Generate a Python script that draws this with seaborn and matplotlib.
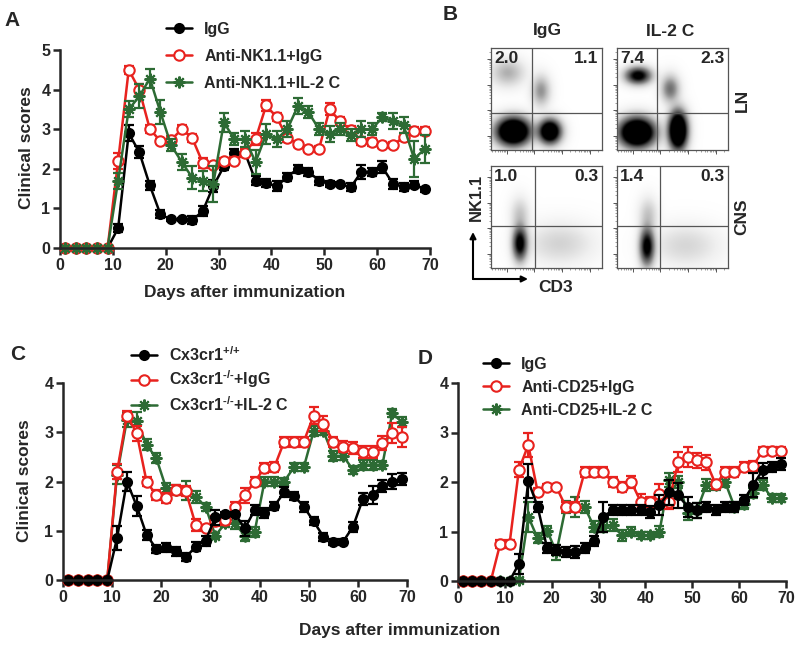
import numpy as np
import matplotlib
matplotlib.use('Agg')
import matplotlib.pyplot as plt
from matplotlib.patches import FancyArrowPatch
import seaborn as sns

sns.set_style('ticks')
plt.rcParams['font.family'] = ['Liberation Sans', 'DejaVu Sans']
plt.rcParams['font.weight'] = 'bold'
plt.rcParams['axes.labelweight'] = 'bold'
plt.rcParams['mathtext.fontset'] = 'custom'
plt.rcParams['mathtext.rm'] = 'Liberation Sans:bold'
plt.rcParams['mathtext.bf'] = 'Liberation Sans:bold'
plt.rcParams['mathtext.default'] = 'bf'

BLACK = '#000000'
RED = '#e8221e'
GREEN = '#2d6b34'

# 天数（每隔一天记录一次）
days = list(range(1, 70, 2))

# A: NK1.1 清除
a_igg = [0, 0, 0, 0, 0, 0.5, 2.9, 2.42, 1.58, 0.85, 0.72, 0.72, 0.7, 0.93, 1.56,
         2.06, 2.4, 2.4, 1.7, 1.64, 1.56, 1.8, 2.0, 1.93, 1.7, 1.62, 1.62, 1.53, 1.92, 1.92,
         2.04, 1.62, 1.55, 1.6, 1.48]
a_igg_err = [0, 0, 0, 0, 0, 0.1, 0.2, 0.15, 0.12, 0.1, 0.05, 0.05, 0.1, 0.12, 0.15,
             0.1, 0.1, 0.1, 0.12, 0.1, 0.12, 0.1, 0.1, 0.1, 0.1, 0.08, 0.05, 0.1, 0.18, 0.1,
             0.15, 0.12, 0.1, 0.08, 0.07]
a_nk = [0, 0, 0, 0, 0, 2.2, 4.5, 4.0, 3.0, 2.7, 2.72, 3.0, 2.78, 2.15, 2.1,
        2.2, 2.2, 2.4, 2.75, 3.6, 3.3, 2.78, 2.62, 2.5, 2.5, 3.5, 3.2, 2.98, 2.7, 2.67,
        2.6, 2.6, 2.8, 2.95, 2.95]
a_nk_err = [0, 0, 0, 0, 0, 0.2, 0.1, 0.15, 0.1, 0.05, 0.1, 0.1, 0.1, 0.12, 0.08,
            0.08, 0.1, 0.1, 0.15, 0.15, 0.1, 0.1, 0.08, 0.08, 0.08, 0.15, 0.1, 0.1, 0.1, 0.1,
            0.08, 0.08, 0.1, 0.1, 0.1]
a_nk_il2 = [0, 0, 0, 0, 0, 1.7, 3.5, 3.83, 4.28, 3.43, 2.6, 2.18, 1.78, 1.7, 1.62,
            3.17, 2.75, 2.75, 2.17, 2.87, 2.75, 3.0, 3.58, 3.43, 3.0, 2.87, 3.0, 2.85, 3.0, 3.0,
            3.3, 3.2, 3.1, 2.25, 2.5]
a_nk_il2_err = [0, 0, 0, 0, 0, 0.2, 0.2, 0.3, 0.25, 0.3, 0.15, 0.2, 0.3, 0.25, 0.45,
                0.25, 0.15, 0.2, 0.3, 0.25, 0.2, 0.2, 0.2, 0.15, 0.15, 0.2, 0.15, 0.15, 0.2, 0.15,
                0.1, 0.2, 0.2, 0.45, 0.35]

# C: Cx3cr1
c_wt = [0, 0, 0, 0, 0, 0.85, 2.0, 1.5, 0.92, 0.63, 0.66, 0.58, 0.46, 0.68, 0.8,
        1.27, 1.34, 1.34, 1.05, 1.42, 1.36, 1.5, 1.78, 1.71, 1.49, 1.19, 0.88, 0.78, 0.78, 1.08,
        1.64, 1.73, 1.91, 2.0, 2.05]
c_wt_err = [0, 0, 0, 0, 0, 0.25, 0.2, 0.2, 0.1, 0.08, 0.1, 0.1, 0.08, 0.1, 0.1,
            0.15, 0.05, 0.05, 0.15, 0.1, 0.1, 0.08, 0.1, 0.08, 0.1, 0.08, 0.08, 0.06, 0.06, 0.1,
            0.12, 0.18, 0.12, 0.15, 0.12]
c_ko = [0, 0, 0, 0, 0, 2.2, 3.34, 2.98, 2.0, 1.72, 1.66, 1.82, 1.8, 1.12, 1.06,
        1.19, 1.22, 1.49, 1.72, 2.0, 2.27, 2.29, 2.81, 2.81, 2.81, 3.34, 3.17, 2.81, 2.71, 2.68,
        2.6, 2.6, 2.78, 2.98, 2.9]
c_ko_err = [0, 0, 0, 0, 0, 0.15, 0.1, 0.15, 0.1, 0.1, 0.1, 0.1, 0.1, 0.12, 0.06,
            0.1, 0.1, 0.1, 0.15, 0.1, 0.1, 0.1, 0.1, 0.1, 0.1, 0.18, 0.15, 0.1, 0.12, 0.12,
            0.12, 0.12, 0.15, 0.2, 0.2]
c_ko_il2 = [0, 0, 0, 0, 0, 2.14, 3.25, 3.22, 2.75, 2.47, 1.86, 1.83, 1.82, 1.69, 1.49,
            0.9, 1.15, 1.15, 0.9, 0.98, 2.0, 2.0, 2.0, 2.29, 2.29, 3.02, 3.02, 2.52, 2.52, 2.24,
            2.34, 2.34, 2.34, 3.39, 3.2]
c_ko_il2_err = [0, 0, 0, 0, 0, 0.2, 0.15, 0.2, 0.12, 0.1, 0.1, 0.1, 0.2, 0.12, 0.08,
                0.06, 0.08, 0.12, 0.1, 0.1, 0.1, 0.1, 0.08, 0.08, 0.08, 0.1, 0.08, 0.1, 0.08, 0.08,
                0.1, 0.1, 0.08, 0.08, 0.1]

# D: CD25 清除
d_igg = [0, 0, 0, 0, 0, 0, 0.35, 2.02, 1.5, 0.67, 0.62, 0.59, 0.59, 0.67, 0.8,
         1.3, 1.43, 1.43, 1.43, 1.43, 1.4, 1.53, 1.79, 1.73, 1.5, 1.43, 1.5, 1.43, 1.5, 1.5,
         1.63, 1.94, 2.24, 2.3, 2.37]
d_igg_err = [0, 0, 0, 0, 0, 0, 0.2, 0.35, 0.1, 0.1, 0.1, 0.1, 0.12, 0.1, 0.1,
             0.3, 0.1, 0.1, 0.1, 0.1, 0.12, 0.2, 0.25, 0.25, 0.2, 0.15, 0.1, 0.1, 0.1, 0.1,
             0.1, 0.25, 0.15, 0.1, 0.12]
d_cd25 = [0, 0, 0, 0, 0.75, 0.75, 2.25, 2.75, 1.8, 1.9, 1.9, 1.5, 1.5, 2.2, 2.2,
          2.2, 2.0, 1.9, 2.0, 1.6, 1.6, 1.75, 1.6, 2.4, 2.5, 2.44, 2.4, 1.95, 2.2, 2.2,
          2.3, 2.33, 2.62, 2.62, 2.62]
d_cd25_err = [0, 0, 0, 0, 0.08, 0.08, 0.15, 0.25, 0.08, 0.06, 0.06, 0.1, 0.1, 0.1, 0.1,
              0.1, 0.1, 0.1, 0.12, 0.15, 0.1, 0.2, 0.15, 0.2, 0.2, 0.15, 0.15, 0.1, 0.1, 0.1,
              0.1, 0.1, 0.08, 0.08, 0.08]
d_cd25_il2 = [0, 0, 0, 0, 0, 0, 0.02, 1.3, 0.86, 1.02, 0.58, 1.5, 1.5, 1.5, 1.1,
              1.1, 1.13, 0.92, 1.0, 0.92, 0.92, 1.0, 2.04, 2.0, 1.38, 1.43, 1.94, 1.94, 2.0, 1.5,
              1.56, 1.77, 1.94, 1.67, 1.68]
d_cd25_il2_err = [0, 0, 0, 0, 0, 0, 0.05, 0.3, 0.1, 0.1, 0.15, 0.12, 0.2, 0.12, 0.12,
                  0.1, 0.12, 0.12, 0.1, 0.08, 0.08, 0.12, 0.15, 0.12, 0.15, 0.15, 0.12, 0.1, 0.1, 0.1,
                  0.1, 0.1, 0.1, 0.08, 0.08]

# B: 流式细胞群 (CD3 中心, NK1.1 中心, 宽, 高, 密度)
ln_igg_pops = [(0.20, 0.18, 0.09, 0.08, 1.0), (0.53, 0.18, 0.06, 0.07, 0.8),
               (0.15, 0.76, 0.09, 0.08, 0.1), (0.45, 0.58, 0.05, 0.09, 0.14)]
ln_il2_pops = [(0.18, 0.17, 0.095, 0.085, 1.0), (0.55, 0.19, 0.05, 0.11, 1.0),
               (0.19, 0.73, 0.07, 0.05, 0.5), (0.48, 0.60, 0.05, 0.08, 0.2)]
cns_igg_pops = [(0.26, 0.24, 0.04, 0.1, 0.5), (0.62, 0.24, 0.18, 0.12, 0.05),
                (0.26, 0.52, 0.05, 0.1, 0.07)]
cns_il2_pops = [(0.27, 0.21, 0.04, 0.11, 0.5), (0.62, 0.22, 0.18, 0.12, 0.045),
                (0.28, 0.52, 0.05, 0.1, 0.07)]
ln_igg_gate, ln_il2_gate = (0.37, 0.36), (0.36, 0.36)
cns_igg_gate, cns_il2_gate = (0.40, 0.41), (0.39, 0.41)
ln_igg_pct, ln_il2_pct = ('2.0', '1.1'), ('7.4', '2.3')
cns_igg_pct, cns_il2_pct = ('1.0', '0.3'), ('1.4', '0.3')

W, H = 800, 646
fig = plt.figure(figsize=(8, 6.46), dpi=100)


def px_axes(l, t, r, b):
    return fig.add_axes([l / W, 1 - b / H, (r - l) / W, (b - t) / H])


def px_text(x, y, s, **kw):
    fig.text(x / W, 1 - y / H, s, ha=kw.pop('ha', 'center'), va=kw.pop('va', 'center'), **kw)


def draw_series(ax, vals, errs, color, kind, label):
    style = dict(color=color, linewidth=1.8, markeredgecolor=color, markeredgewidth=1.5)
    if kind == 'filled':
        style.update(marker='o', markersize=6.5, markerfacecolor=color)
    elif kind == 'open':
        style.update(marker='o', markersize=7.5, markerfacecolor='white')
    else:
        style.update(marker=(8, 2, 0), markersize=8.5, markerfacecolor=color)
    ax.errorbar(days, vals, yerr=errs, fmt='none', ecolor=color, elinewidth=1.6,
                capsize=3.5, capthick=1.6, clip_on=False)
    sns.lineplot(x=days, y=vals, ax=ax, label=label, clip_on=False, **style)


def line_panel(ax, series, labels, ymax, leg_xy, spacing):
    for vals, errs, color, kind, label in series:
        draw_series(ax, vals, errs, color, kind, label)
    ax.set_xlim(0, 70)
    ax.set_ylim(0, ymax)
    ax.set_xticks(range(0, 71, 10))
    ax.set_yticks(range(0, ymax + 1))
    ax.set_xlabel('')
    ax.set_ylabel('')
    sns.despine(ax=ax)
    for s in ['left', 'bottom']:
        ax.spines[s].set_linewidth(1.8)
    ax.tick_params(width=1.8, length=5, labelsize=11.5, pad=2)
    h, l = ax.get_legend_handles_labels()
    lookup = dict(zip(l, h))
    ax.legend([lookup[k] for k in labels], labels, loc='upper left', frameon=False,
              bbox_to_anchor=(leg_xy[0] / W, 1 - leg_xy[1] / H), bbox_transform=fig.transFigure,
              borderpad=0, borderaxespad=0, handlelength=1.6, handletextpad=0.8,
              labelspacing=spacing, fontsize=11.5)


# ---- A ----
axA = px_axes(60, 50, 430, 248)
labA = ['IgG', 'Anti-NK1.1+IgG', 'Anti-NK1.1+IL-2 C']
line_panel(axA, [(a_igg, a_igg_err, BLACK, 'filled', labA[0]),
                 (a_nk, a_nk_err, RED, 'open', labA[1]),
                 (a_nk_il2, a_nk_il2_err, GREEN, 'star', labA[2])],
           labA, 5, (166, 22), 0.75)

# ---- C ----
axC = px_axes(63, 383, 407, 580)
labC = [r'Cx3cr1$^{\text{+/+}}$', r'Cx3cr1$^{\text{-/-}}$+IgG', r'Cx3cr1$^{\text{-/-}}$+IL-2 C']
line_panel(axC, [(c_ko_il2, c_ko_il2_err, GREEN, 'star', labC[2]),
                 (c_ko, c_ko_err, RED, 'open', labC[1]),
                 (c_wt, c_wt_err, BLACK, 'filled', labC[0])],
           labC, 4, (131, 345), 0.3)

# ---- D ----
axD = px_axes(458, 383, 786, 581)
labD = ['IgG', 'Anti-CD25+IgG', 'Anti-CD25+IL-2 C']
line_panel(axD, [(d_cd25_il2, d_cd25_il2_err, GREEN, 'star', labD[2]),
                 (d_cd25, d_cd25_err, RED, 'open', labD[1]),
                 (d_igg, d_igg_err, BLACK, 'filled', labD[0])],
           labD, 4, (483, 357), 0.5)

# ---- B: flow plots ----
gx, gy = np.meshgrid(np.linspace(0, 1, 220), np.linspace(0, 1, 220))
log_major = [0.14, 0.39, 0.64, 0.89]
log_minor = [m + 0.25 * np.log10(k) for m in [-0.11] + log_major for k in range(2, 10)]
log_minor = [v for v in log_minor if 0 < v < 1]


def flow_panel(box, pops, gate, pct):
    ax = px_axes(*box)
    dens = np.zeros_like(gx)
    for cx, cy, sx, sy, w in pops:
        dens += w * np.exp(-((gx - cx) ** 2 / (2 * sx ** 2) + (gy - cy) ** 2 / (2 * sy ** 2)))
    ax.imshow(dens ** 0.6, origin='lower', extent=(0, 1, 0, 1), cmap='Greys', vmin=0, vmax=0.6,
              interpolation='bilinear', aspect='auto')
    ax.axvline(gate[0], color='#555555', lw=0.9)
    ax.axhline(gate[1], color='#555555', lw=0.9)
    ax.set_xlim(0, 1)
    ax.set_ylim(0, 1)
    for s in ax.spines.values():
        s.set_linewidth(0.9)
        s.set_color('#555555')
    ax.set_xticks(log_major)
    ax.set_yticks(log_major)
    ax.set_xticks(log_minor, minor=True)
    ax.set_yticks(log_minor, minor=True)
    ax.tick_params(which='major', length=3, width=0.7, color='#555555',
                   labelbottom=False, labelleft=False, direction='out')
    ax.tick_params(which='minor', length=1.5, width=0.5, color='#777777', direction='out')
    ax.text(0.03, 0.97, pct[0], transform=ax.transAxes, ha='left', va='top', fontsize=12.5)
    ax.text(0.97, 0.97, pct[1], transform=ax.transAxes, ha='right', va='top', fontsize=12.5)


flow_panel((491, 48, 602, 150), ln_igg_pops, ln_igg_gate, ln_igg_pct)
flow_panel((617, 48, 728, 150), ln_il2_pops, ln_il2_gate, ln_il2_pct)
flow_panel((491, 166, 602, 268), cns_igg_pops, cns_igg_gate, cns_igg_pct)
flow_panel((617, 166, 728, 268), cns_il2_pops, cns_il2_gate, cns_il2_pct)

px_text(547, 31, 'IgG', fontsize=12.5)
px_text(670, 31, 'IL-2 C', fontsize=12.5)
px_text(742, 100, 'LN', fontsize=12.5, rotation=90)
px_text(742, 217, 'CNS', fontsize=12.5, rotation=90)
px_text(476, 197, 'NK1.1', fontsize=12, rotation=90)
px_text(556, 287, 'CD3', fontsize=12.5)
corner = (473 / W, 1 - 279 / H)
for tip in [(473 / W, 1 - 232 / H), (528 / W, 1 - 279 / H)]:
    fig.add_artist(FancyArrowPatch(corner, tip, transform=fig.transFigure, arrowstyle='-|>',
                                   mutation_scale=9, lw=1.5, color='black', shrinkA=0, shrinkB=0))

# 文字标签
px_text(27, 148, 'Clinical scores', fontsize=12.5, rotation=90)
px_text(25, 481, 'Clinical scores', fontsize=12.5, rotation=90)
px_text(245, 293, 'Days after immunization', fontsize=12.5)
px_text(400, 631, 'Days after immunization', fontsize=12.5)
px_text(12, 21, 'A', fontsize=15)
px_text(450, 15, 'B', fontsize=15)
px_text(18, 355, 'C', fontsize=15)
px_text(425, 358, 'D', fontsize=15)

fig.savefig('out.png', dpi=100)
